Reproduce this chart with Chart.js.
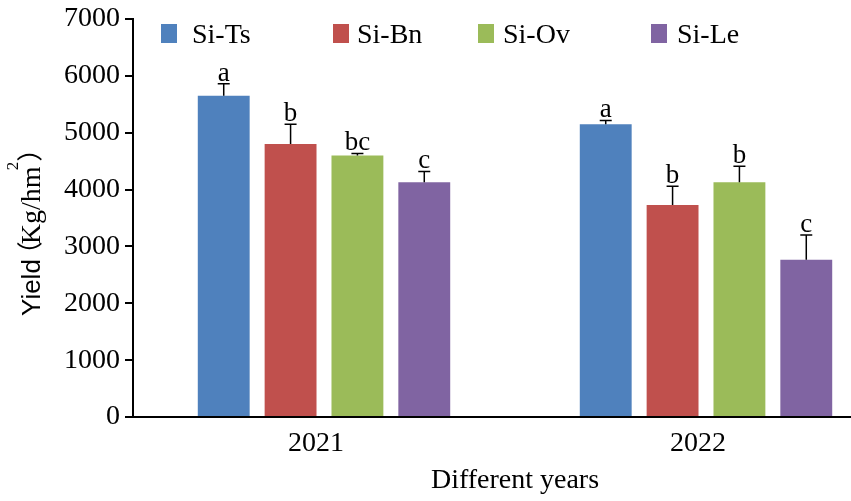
<!DOCTYPE html>
<html lang="en">
<head>
<meta charset="UTF-8">
<title>Yield by year</title>
<script src="https://cdn.jsdelivr.net/npm/chart.js"></script>
<style>
    html, body { margin: 0; background: #fff; overflow: hidden; }
    canvas { display: block; }
</style>
</head>
<body>
<!-- the original figure is cut off on the right, so the canvas is wider than the window -->
<canvas id="yieldChart" width="897" height="501"></canvas>
<script>
// data
var years = ['2021', '2022'];
var seriesNames = ['Si-Ts', 'Si-Bn', 'Si-Ov', 'Si-Le'];
var siTs = [5650, 5150];
var siBn = [4800, 3730];
var siOv = [4600, 4130];
var siLe = [4130, 2765];
// upper error (SD) for each bar
var siTsErr = [210, 65];
var siBnErr = [350, 330];
var siOvErr = [35, 280];
var siLeErr = [190, 435];
// significance letters
var siTsSig = ['a', 'a'];
var siBnSig = ['b', 'b'];
var siOvSig = ['bc', 'b'];
var siLeSig = ['c', 'c'];
var yMin = 0, yMax = 7000, yStep = 1000;

var colors = ['#4F81BD', '#C0504D', '#9BBB59', '#8064A2'];
var serif = "'Liberation Serif', 'Times New Roman', serif";

var chartData = {
    labels: years,
    datasets: [siTs, siBn, siOv, siLe].map(function (vals, i) {
        return {
            label: seriesNames[i],
            data: vals,
            backgroundColor: colors[i],
            borderWidth: 0,
            barPercentage: 0.776,
            categoryPercentage: 0.70,
            errors: [siTsErr, siBnErr, siOvErr, siLeErr][i],
            letters: [siTsSig, siBnSig, siOvSig, siLeSig][i]
        };
    })
};

// error bars + letters over each bar
var errorBars = {
    id: 'errorBars',
    afterDatasetsDraw: function (chart) {
        var ctx = chart.ctx;
        var yScale = chart.scales.y;
        ctx.save();
        chart.data.datasets.forEach(function (ds, i) {
            var meta = chart.getDatasetMeta(i);
            meta.data.forEach(function (bar, j) {
                var yTop = yScale.getPixelForValue(ds.data[j] + ds.errors[j]);
                ctx.strokeStyle = '#000';
                ctx.lineWidth = 1.5;
                ctx.beginPath();
                ctx.moveTo(bar.x, bar.y);
                ctx.lineTo(bar.x, yTop);
                ctx.moveTo(bar.x - 6, yTop);
                ctx.lineTo(bar.x + 6, yTop);
                ctx.stroke();
                ctx.fillStyle = '#000';
                ctx.font = '27px ' + serif;
                ctx.textAlign = 'center';
                ctx.textBaseline = 'alphabetic';
                ctx.fillText(ds.letters[j], bar.x, yTop - 3);
            });
        });
        ctx.restore();
    }
};

// legend row inside the plot and the y axis title
var decorations = {
    id: 'decorations',
    afterDraw: function (chart) {
        var ctx = chart.ctx;
        var boxX = [161, 333, 478, 651];
        var textX = [192, 357, 503, 677];
        ctx.save();
        chart.data.datasets.forEach(function (ds, i) {
            ctx.fillStyle = ds.backgroundColor;
            ctx.fillRect(boxX[i], 24, 16, 19);
            ctx.fillStyle = '#000';
            ctx.font = '28px ' + serif;
            ctx.textAlign = 'left';
            ctx.textBaseline = 'alphabetic';
            ctx.fillText(ds.label, textX[i], 43);
        });

        // Yield（Kg/hm2）
        ctx.translate(40, 316);
        ctx.rotate(-Math.PI / 2);
        ctx.fillStyle = '#000';
        ctx.textAlign = 'left';
        ctx.textBaseline = 'alphabetic';
        var x = 0;
        ctx.font = "26px 'Liberation Sans', Arial, sans-serif";
        ctx.fillText('Yield', x, 0);
        x += ctx.measureText('Yield').width - 8;
        ctx.font = "26px 'Noto Sans CJK SC', sans-serif";
        ctx.fillText('（', x, -1);
        x += ctx.measureText('（').width - 3;
        ctx.font = '28px ' + serif;
        ctx.fillText('Kg/hm', x, 0);
        x += ctx.measureText('Kg/hm').width - 4;
        ctx.font = '17px ' + serif;
        ctx.fillText('2', x, -22);
        x += ctx.measureText('2').width;
        ctx.font = "26px 'Noto Sans CJK SC', sans-serif";
        ctx.fillText('）', x, -1);
        ctx.restore();
    }
};

var chartOptions = {
    responsive: false,
    animation: false,
    layout: { padding: { left: 59, right: 0, top: 0, bottom: 2 } },
    plugins: {
        legend: { display: false },
        tooltip: { enabled: false }
    },
    scales: {
        x: {
            type: 'category',
            offset: true,
            grid: { display: false, drawTicks: false },
            border: { display: true, color: '#000', width: 2 },
            ticks: { color: '#000', font: { family: serif, size: 28, lineHeight: 1 }, padding: 13, labelOffset: -8 },
            title: {
                display: true,
                text: 'Different years',
                color: '#000',
                font: { family: serif, size: 28, lineHeight: 1 },
                padding: { top: -4, bottom: 4 }
            }
        },
        y: {
            min: yMin,
            max: yMax,
            grid: { drawOnChartArea: false, drawTicks: true, tickLength: 8, color: '#000', lineWidth: 2 },
            border: { display: true, color: '#000', width: 2 },
            ticks: {
                stepSize: yStep,
                color: '#000',
                font: { family: serif, size: 28, lineHeight: 1 },
                padding: 5,
                callback: function (value) { return String(value); }
            }
        }
    }
};

var ctx = document.getElementById('yieldChart').getContext('2d');
var yieldChart = new Chart(ctx, {
    type: 'bar',
    data: chartData,
    options: chartOptions,
    plugins: [errorBars, decorations]
});
</script>
</body>
</html>
